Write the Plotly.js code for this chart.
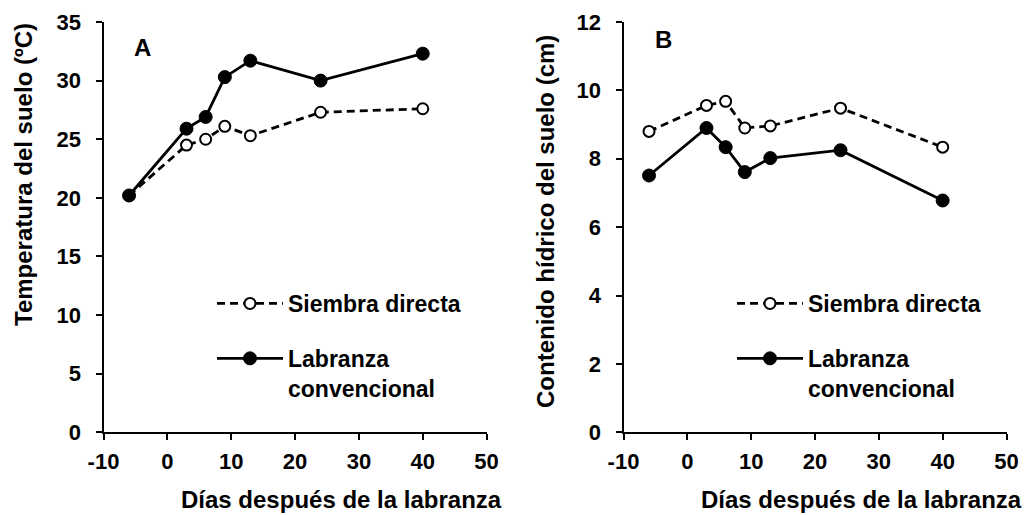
<!DOCTYPE html>
<html>
<head>
<meta charset="utf-8">
<script src="https://cdn.plot.ly/plotly-3.0.1.min.js"></script>
<style>html,body{margin:0;padding:0;background:#fff;}#chart{width:1030px;height:515px;}</style>
</head>
<body>
<div id="chart"></div>
<script>
// Data
const dias = [-6, 3, 6, 9, 13, 24, 40];
const tempSiembra = [20.2, 24.5, 25.0, 26.1, 25.3, 27.3, 27.6];
const tempLabranza = [20.2, 25.9, 26.9, 30.3, 31.7, 30.0, 32.3];
const aguaSiembra = [8.8, 9.56, 9.68, 8.9, 8.96, 9.48, 8.34];
const aguaLabranza = [7.51, 8.9, 8.34, 7.61, 8.02, 8.25, 6.78];
const nombreSD = "Siembra directa";
const nombreLC = "Labranza<br>convencional";
const xTitulo = "Días después de la labranza";
const yTituloA = "Temperatura del suelo (ºC)";
const yTituloB = "Contenido hídrico del suelo (cm)";
const xTicks = [-10, 0, 10, 20, 30, 40, 50];
const xTickLabels = ["-10", "0", "10", "20", "30", "40", "50"];

const W = 1030, H = 515;
const px = v => v / W, py = v => 1 - v / H;
const FONT = "Arial, 'Liberation Sans', sans-serif";

const sdLine = {color: "#000", width: 2.8, dash: "8px,5px"};
const lcLine = {color: "#000", width: 2.8};
const sdMarker = {symbol: "circle", size: 11, color: "#fff", line: {color: "#000", width: 2}};
const lcMarker = {symbol: "circle", size: 13, color: "#000", line: {color: "#000", width: 1}};

const traces = [
  {x: dias, y: tempSiembra, name: nombreSD, mode: "lines+markers", line: sdLine, marker: sdMarker, xaxis: "x", yaxis: "y", legend: "legend", legendgroup: "a1"},
  {x: dias, y: tempLabranza, name: nombreLC, mode: "lines+markers", line: lcLine, marker: lcMarker, xaxis: "x", yaxis: "y", legend: "legend", legendgroup: "a2"},
  {x: dias, y: aguaSiembra, name: nombreSD, mode: "lines+markers", line: sdLine, marker: sdMarker, xaxis: "x2", yaxis: "y2", legend: "legend2", legendgroup: "b1"},
  {x: dias, y: aguaLabranza, name: nombreLC, mode: "lines+markers", line: lcLine, marker: lcMarker, xaxis: "x2", yaxis: "y2", legend: "legend2", legendgroup: "b2"}
];

const tickFont = {family: FONT, size: 22, color: "#000", weight: "bold"};
function xAx(domain) {
  return {domain: domain, range: [-10, 50], tickvals: xTicks, ticktext: xTickLabels, showline: true, linecolor: "#000", linewidth: 2,
    ticks: "outside", ticklen: 6, tickwidth: 2, tickcolor: "#000", showgrid: false, zeroline: false,
    tickfont: tickFont, ticklabelstandoff: 2, fixedrange: true};
}
function yAx(range, dtick, anchor) {
  return {domain: [py(432.3), py(22)], range: range, dtick: dtick, showline: true, linecolor: "#000", linewidth: 2,
    ticks: "outside", ticklen: 6, tickwidth: 2, tickcolor: "#000", showgrid: false, zeroline: false,
    tickfont: tickFont, ticklabelstandoff: 10, anchor: anchor, fixedrange: true};
}
const legFont = {family: FONT, size: 23, color: "#000", weight: "bold"};
const annFont = {family: FONT, size: 24, color: "#000", weight: "bold"};
function ann(text, x, y, extra) {
  return Object.assign({text: text, xref: "paper", yref: "paper", x: px(x), y: py(y),
    xanchor: "center", yanchor: "middle", showarrow: false, font: annFont}, extra || {});
}

const layout = {
  width: W, height: H,
  margin: {l: 0, r: 0, t: 0, b: 0},
  paper_bgcolor: "#fff", plot_bgcolor: "#fff",
  showlegend: true,
  xaxis: xAx([px(103.5), px(486.6)]),
  yaxis: yAx([0, 35], 5, "x"),
  xaxis2: Object.assign(xAx([px(623.5), px(1006.5)]), {anchor: "y2"}),
  yaxis2: yAx([0, 12], 2, "x2"),
  legend: {x: px(212), y: py(282), xanchor: "left", yanchor: "top", bgcolor: "rgba(0,0,0,0)", font: legFont,
    valign: "top", tracegroupgap: 22, traceorder: "grouped", itemclick: false, itemwidth: 66},
  legend2: {x: px(732), y: py(282), xanchor: "left", yanchor: "top", bgcolor: "rgba(0,0,0,0)", font: legFont,
    valign: "top", tracegroupgap: 22, traceorder: "grouped", itemclick: false, itemwidth: 66},
  annotations: [
    ann("A", 142, 47),
    ann("B", 663, 40),
    ann(xTitulo, 341, 499),
    ann(xTitulo, 861, 499),
    ann(yTituloA, 23, 175, {textangle: -90}),
    ann(yTituloB, 545, 222, {textangle: -90})
  ]
};

Plotly.newPlot("chart", traces, layout, {displayModeBar: false, staticPlot: true});
</script>
</body>
</html>
